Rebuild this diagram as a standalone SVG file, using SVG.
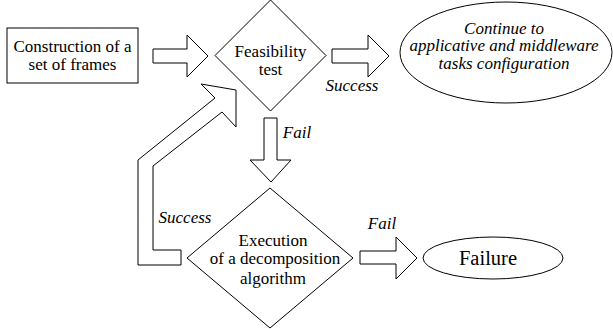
<svg xmlns="http://www.w3.org/2000/svg" width="613" height="329" viewBox="0 0 613 329" font-family="Liberation Serif, DejaVu Serif, serif">
<style>
.s{fill:#fff;stroke:#000;stroke-width:1}
.t{font-size:17px;fill:#000;text-anchor:middle}
.i{font-style:italic}
</style>
<rect width="613" height="329" fill="#fff"/>
<g id="connectors">
<polygon class="s" points="153,49 187,49 187,35 208,56 187,77 187,63 153,63"/>
<polygon class="s" points="332,49 368,49 368,35 389,56 368,77 368,63 332,63"/>
<polygon class="s" points="264,118 277,118 277,160 291,160 271,182 250,160 264,160"/>
<polygon class="s" points="360,251 396,251 396,237 417,258 396,279 396,264 360,264"/>
<polygon class="s" points="138,265 138,160 215,98 201,84 236,90 236,127 222,112 153,166 153,250 181,250 181,265"/>
<text class="t i" x="352" y="91" font-family="Liberation Serif">Success</text>
<text class="t i" x="297" y="138" font-family="Liberation Serif">Fail</text>
<text class="t i" x="185" y="223" font-family="Liberation Serif">Success</text>
<text class="t i" x="382" y="229" font-family="Liberation Serif">Fail</text>
</g>
<g id="construction">
<rect class="s" x="7" y="28" width="131" height="55"/>
<text class="t" x="72.5" y="52" font-family="Liberation Serif">Construction of a</text>
<text class="t" x="72.5" y="70" font-family="Liberation Serif">set of frames</text>
</g>
<g id="feasibility">
<polygon class="s" points="270.5,0 326,55.5 270.5,111 215,55.5"/>
<text class="t" x="270.5" y="57" font-family="Liberation Serif">Feasibility</text>
<text class="t" x="270.5" y="75" font-family="Liberation Serif">test</text>
</g>
<g id="continue">
<ellipse class="s" cx="506" cy="52.5" rx="106" ry="50.5"/>
<text class="t i" x="504" y="33.5" font-size="16.5" font-family="Liberation Serif">Continue to</text>
<text class="t i" x="504" y="51" font-size="16.5" font-family="Liberation Serif">applicative and middleware</text>
<text class="t i" x="504" y="68.5" font-size="16.5" font-family="Liberation Serif">tasks configuration</text>
</g>
<g id="decomposition">
<polygon class="s" points="270,188 353,258 270,328 187,258"/>
<text class="t" x="273" y="246" font-family="Liberation Serif">Execution</text>
<text class="t" x="275" y="264" font-family="Liberation Serif">of a decomposition</text>
<text class="t" x="273" y="284" font-family="Liberation Serif">algorithm</text>
</g>
<g id="failure">
<ellipse class="s" cx="493" cy="258" rx="70" ry="21"/>
<text class="t" x="488" y="265" font-family="Liberation Serif" style="font-size:20.5px">Failure</text>
</g>
</svg>
